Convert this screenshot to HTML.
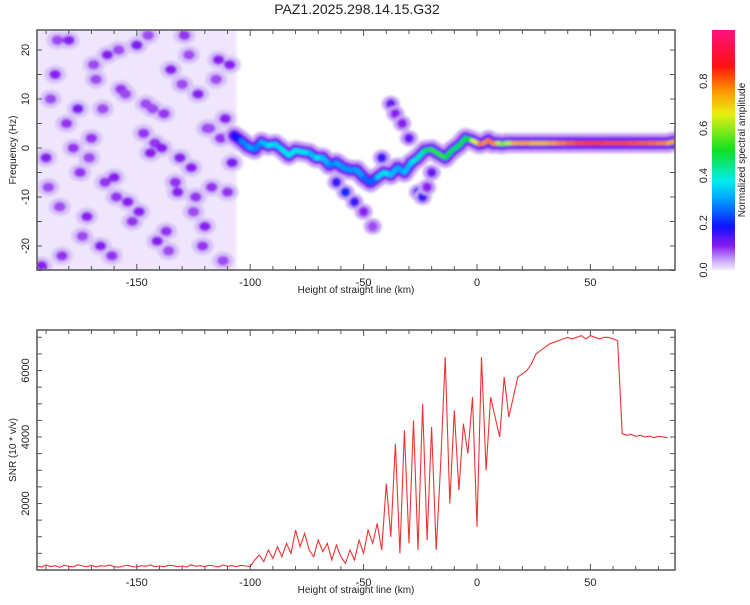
<!DOCTYPE html>
<html><head><meta charset="utf-8"><style>
body{margin:0;background:#fff;width:750px;height:600px;overflow:hidden;font-family:"Liberation Sans",sans-serif}
svg text{font-family:"Liberation Sans",sans-serif;fill:#222}
</style></head><body>
<svg id="fig" width="750" height="600" xmlns="http://www.w3.org/2000/svg">
<defs>
<filter id="bl" x="-10%" y="-10%" width="120%" height="120%"><feGaussianBlur stdDeviation="1.2"/></filter>
<clipPath id="c1"><rect x="37" y="30" width="638" height="240"/></clipPath>
<clipPath id="c2"><rect x="37" y="330" width="638" height="240"/></clipPath>
<linearGradient id="cbgrad" x1="0" y1="1" x2="0" y2="0">
<stop offset="0" stop-color="#f4eefc"/><stop offset="0.04" stop-color="#c9a6f5"/><stop offset="0.1" stop-color="#8a1cf0"/>
<stop offset="0.18" stop-color="#1010ff"/><stop offset="0.3" stop-color="#00a8ff"/><stop offset="0.37" stop-color="#00eeee"/>
<stop offset="0.5" stop-color="#10e020"/><stop offset="0.65" stop-color="#e8f010"/><stop offset="0.75" stop-color="#ff9000"/>
<stop offset="0.85" stop-color="#ff1010"/><stop offset="1" stop-color="#ff1080"/></linearGradient>
</defs>
<text x="357" y="14" font-size="14" text-anchor="middle">PAZ1.2025.298.14.15.G32</text>
<g id="topPanel"></g>
<g id="botPanel"></g>
<g id="cbarPanel"></g>
</svg>
<script>
// ---- data ----
const xTicks=[-150,-100,-50,0,50];
const fTicks=[-20,-10,0,10,20];
const snrTicks=[2000,4000,6000];
const cbTicks=[0.0,0.2,0.4,0.6,0.8];
const noiseX=[-190,-186,-183,-180,-176,-172,-170,-166,-163,-160,-157,-154,-150,-147,-144,-141,-138,-135,-132,-129,-126,-123,-120,-117,-114,-111,-108,-188,-184,-178,-174,-168,-164,-158,-152,-146,-142,-136,-130,-124,-118,-112,-109,-192,-181,-171,-161,-155,-149,-139,-133,-127,-121,-115,-110,-185,-175,-165,-145,-137,-125,-113,-189,-169,-159,-143,-131,-119];
const noiseF=[-2,15,-22,22,8,-14,2,-20,19,-6,12,-11,21,3,-1,-19,7,16,-9,23,-4,11,-16,-8,18,6,-3,10,-12,0,-18,14,-7,20,-15,9,1,-21,13,-10,4,-23,17,-24,5,-2,-22,11,-13,0,-7,19,-20,14,-9,22,-5,8,23,-17,-13,2,-8,17,-10,8,-2,4];
const noiseA=[0.1,0.1,0.09,0.1,0.11,0.1,0.09,0.1,0.1,0.1,0.09,0.1,0.11,0.09,0.1,0.1,0.09,0.1,0.1,0.09,0.1,0.1,0.1,0.09,0.1,0.1,0.11,0.08,0.08,0.09,0.08,0.08,0.09,0.08,0.09,0.08,0.09,0.08,0.08,0.09,0.08,0.08,0.1,0.1,0.09,0.08,0.09,0.08,0.1,0.1,0.09,0.08,0.09,0.08,0.09,0.08,0.09,0.08,0.08,0.09,0.08,0.09,0.08,0.08,0.09,0.08,0.1,0.08];
const ridgeX=[-107,-104,-101,-98,-95,-92,-89,-86,-83,-80,-77,-74,-71,-68,-65,-62,-59,-56,-53,-50,-47,-44,-41,-38,-35,-32,-29,-26,-23,-20,-17,-14,-11,-8,-5,-2,1,3,5,7,9,11,13,16,20,24,28,32,36,40,44,48,52,56,60,64,68,72,76,80,84,87];
const ridgeF=[2.5,1.5,0.3,-0.3,1.2,0.5,0.8,-0.3,-1.5,-0.5,-0.8,-1,-2,-2,-3.5,-3,-4,-4.5,-4.5,-6,-7,-6,-5,-5.5,-4,-5,-3,-2,-0.5,-0.3,-1.2,-2,-0.5,0.5,2,1.5,0.8,1,1.6,0.9,1,0.8,1,1,1,1,1,1,1,1,1,1,1,1,1,1,1,1,1,1,1,1.3];
const ridgeA=[0.15,0.2,0.35,0.25,0.3,0.35,0.4,0.3,0.45,0.3,0.45,0.3,0.35,0.4,0.25,0.3,0.3,0.28,0.3,0.3,0.2,0.3,0.4,0.35,0.3,0.3,0.35,0.4,0.4,0.55,0.5,0.55,0.45,0.5,0.45,0.55,0.75,0.8,0.7,0.85,0.65,0.6,0.55,0.7,0.75,0.72,0.7,0.72,0.75,0.78,0.8,0.82,0.82,0.82,0.8,0.82,0.8,0.8,0.78,0.78,0.75,0.7];
const sideX=[-62,-58,-54,-50,-46,-38,-36,-33,-30,-26,-24,-22,-42,-20];
const sideF=[-7,-9,-11,-13,-16,9,7,5,2,-9,-10,-8,-2,-5];
const sideA=[0.15,0.2,0.15,0.1,0.08,0.12,0.1,0.1,0.12,0.2,0.15,0.1,0.15,0.12];
const snrX=[];for(let h=-194;h<=86;h+=2)snrX.push(h);
const snrY=[120,90,150,100,130,80,140,110,95,160,120,100,140,90,130,110,150,100,85,120,140,100,90,130,110,150,100,120,95,140,130,100,120,90,160,110,130,100,140,120,90,150,110,130,100,140,120,100,
300,450,250,600,350,700,400,800,500,1200,700,1100,600,400,900,550,800,300,750,400,200,600,300,900,500,1200,800,1400,600,2600,1000,3800,500,4200,800,4500,600,5000,900,4300,600,3200,6400,2000,4800,2400,4400,3500,5200,1300,6400,3000,5200,4600,4000,5800,4600,5200,5800,5900,6000,6200,6500,6600,6700,6800,6850,6900,6950,7000,6950,7000,7050,6950,7050,7000,6950,7000,7000,6950,6900,4100,4050,4080,4020,4050,4000,4030,3980,4020,4000,3980];

// ---- helpers ----
const NS='http://www.w3.org/2000/svg';
function mk(t,a,p){const e=document.createElementNS(NS,t);for(const k in a)e.setAttribute(k,a[k]);p.appendChild(e);return e;}
const X0=37,X1=675,H0=-194,H1=87.3;
const xs=h=>X0+(h-H0)/(H1-H0)*(X1-X0);
const fy=f=>148-f*4.9;
const sy=v=>570-v/2000*66.5;
const cmapStops=[[0,[244,238,252]],[0.04,[201,166,245]],[0.1,[138,28,240]],[0.18,[16,16,255]],[0.3,[0,168,255]],[0.37,[0,238,238]],[0.5,[16,224,32]],[0.65,[232,240,16]],[0.75,[255,144,0]],[0.85,[255,16,16]],[1,[255,16,128]]];
function cmap(v){for(let i=1;i<cmapStops.length;i++){if(v<=cmapStops[i][0]){const a=cmapStops[i-1][0],ca=cmapStops[i-1][1],b=cmapStops[i][0],cbb=cmapStops[i][1];const t=(v-a)/(b-a);return 'rgb('+ca.map((c,j)=>Math.round(c+(cbb[j]-c)*t)).join(',')+')';}}return 'rgb(255,16,128)';}

function axes(g,y0,y1,xt,yt,ylab,yfun,minorY,ymin,ymax){
  mk('rect',{x:X0,y:y0,width:X1-X0,height:y1-y0,fill:'none',stroke:'#555','stroke-width':1.5},g);
  for(let h=-190;h<=80;h+=10){const x=xs(h);const L=(h%50===0)?6:4;
    mk('line',{x1:x,x2:x,y1:y1,y2:y1-L,stroke:'#555'},g);mk('line',{x1:x,x2:x,y1:y0,y2:y0+L,stroke:'#555'},g);}
  xt.forEach(t=>{const e=mk('text',{x:xs(t),y:y1+16,'font-size':11,'text-anchor':'middle'},g);e.textContent=t;
    
    });
  for(let v=ymin;v<=ymax;v+=minorY){const y=yfun(v);if(y<y0-0.5||y>y1+0.5)continue;
    mk('line',{x1:X0,x2:X0+5,y1:y,y2:y,stroke:'#555'},g);mk('line',{x1:X1,x2:X1-5,y1:y,y2:y,stroke:'#555'},g);}
  yt.forEach(t=>{const y=yfun(t);const e=mk('text',{x:0,y:0,'font-size':11,'text-anchor':'middle',transform:`translate(${X0-8},${y}) rotate(-90)`},g);e.textContent=t;
    
    });
  const xl=mk('text',{x:356,y:y1+23,'font-size':10,'text-anchor':'middle'},g);xl.textContent='Height of straight line (km)';
  
  
  const yl=mk('text',{x:0,y:0,'font-size':10,'text-anchor':'middle',transform:`translate(16,${(y0+y1)/2}) rotate(-90)`},g);yl.textContent=ylab;
  
  
}

// ---- top spectrogram ----
const topG=document.getElementById('topPanel');
const heat=mk('g',{'clip-path':'url(#c1)'},topG);
const hb=mk('g',{filter:'url(#bl)'},heat);
const bgR=mk('rect',{x:X0,y:30,width:xs(-106)-X0,height:240,fill:'#efe6fc'},hb);


noiseX.forEach((h,i)=>{
  mk('ellipse',{cx:xs(h),cy:fy(noiseF[i]),rx:11,ry:9,fill:'#d8c2f8'},hb);
});
noiseX.forEach((h,i)=>{
  const c=mk('ellipse',{cx:xs(h),cy:fy(noiseF[i]),rx:6,ry:5,fill:cmap(noiseA[i])},hb);
  
  
});
sideX.forEach((h,i)=>{
  mk('ellipse',{cx:xs(h),cy:fy(sideF[i]),rx:9,ry:8,fill:cmap(0.04)},hb);
  const c=mk('ellipse',{cx:xs(h),cy:fy(sideF[i]),rx:5,ry:5,fill:cmap(sideA[i])},hb);
  
  
});
[[0.04,20],[0.1,13],[0.2,8],[1,4.5]].forEach(lvl=>{
  const lv=lvl[0],w=lvl[1];
  for(let i=0;i<ridgeX.length-1;i++){
    const a=(ridgeA[i]+ridgeA[i+1])/2;const v=lv===1?a:Math.min(lv,a);
    const s=mk('line',{x1:xs(ridgeX[i]),y1:fy(ridgeF[i]),x2:xs(ridgeX[i+1]),y2:fy(ridgeF[i+1]),stroke:cmap(v),'stroke-width':w,'stroke-linecap':'round'},hb);
    
    
  }
});
axes(topG,30,270,xTicks,fTicks,'Frequency (Hz)',fy,5,-25,25);

// ---- colorbar ----
const cbG=document.getElementById('cbarPanel');
mk('rect',{x:712,y:30,width:23,height:240,fill:'url(#cbgrad)'},cbG);
cbTicks.forEach(t=>{const y=270-t*236;const e=mk('text',{x:0,y:0,'font-size':11,'text-anchor':'middle',transform:`translate(707,${y}) rotate(-90)`},cbG);e.textContent=t.toFixed(1);
  
  });
const cl=mk('text',{x:0,y:0,'font-size':10,'text-anchor':'middle',transform:'translate(745,150) rotate(-90)'},cbG);cl.textContent='Normalized spectral amplitude';



// ---- bottom SNR ----
const botG=document.getElementById('botPanel');
const lg=mk('g',{'clip-path':'url(#c2)'},botG);
const pts=snrX.map((h,i)=>xs(h).toFixed(1)+','+sy(snrY[i]).toFixed(1)).join(' ');
const pl=mk('polyline',{points:pts,fill:'none',stroke:'#ee3333','stroke-width':1.1},lg);


axes(botG,330,570,xTicks,snrTicks,'SNR (10 * v/v)',sy,500,0,7500);
</script>
</body></html>
